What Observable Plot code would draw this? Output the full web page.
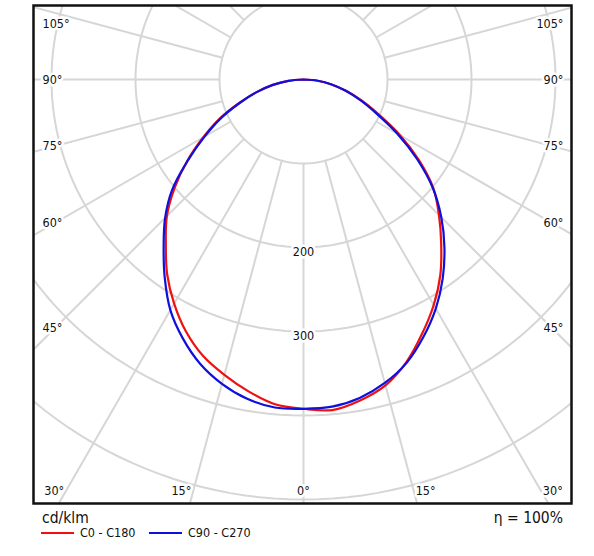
<!DOCTYPE html>
<html>
<head>
<meta charset="utf-8">
<script src="https://cdn.jsdelivr.net/npm/d3@7"></script>
<script src="https://cdn.jsdelivr.net/npm/@observablehq/plot@0.6"></script>
<style>
  body { margin: 0; background: #fff; }
  #wrap { position: relative; width: 594px; height: 556px; font-family: "DejaVu Sans Condensed", "DejaVu Sans", sans-serif; font-stretch: condensed; color: #111; }
  #chart svg { display: block; }
  #foot { position: absolute; left: 0; top: 510px; width: 594px; height: 46px; }
  .unit { position: absolute; left: 42px; top: 0px; font-size: 15.5px; line-height: 17px; }
  .eta { position: absolute; right: 31px; top: 0px; font-size: 15.5px; line-height: 17px; }
  .item { position: absolute; top: 16px; font-size: 12.5px; line-height: 14px; display: flex; align-items: center; }
  .sw { display: inline-block; width: 33px; height: 2.5px; margin-right: 6px; }
</style>
</head>
<body>
<div id="wrap">
  <div id="chart"></div>
  <div id="foot"></div>
</div>
<script>
// ---- data (cd/klm) ----
const gammaAngles = [0, 5, 10, 15, 20, 25, 30, 35, 40, 45, 50, 55, 60, 65, 70, 75, 80, 85, 90];
// C0 - C180 plane (red)
const c0   = [392, 395, 388, 377, 358, 334, 310, 284, 255, 228, 202, 168, 133, 99, 74, 53, 34, 17, 0];
const c180 = [392, 388, 377, 364, 350, 331, 308, 283, 255, 230, 200, 169, 138, 110, 81, 58, 37, 18, 0];
// C90 - C270 plane (blue)
const c90  = [393, 391, 385, 374, 359, 338, 315, 289, 261, 232, 201, 165, 129, 96, 72, 52, 34, 17, 0];
const c270 = [392, 392, 386, 375, 360, 340, 317, 288, 259, 233, 204, 168, 136, 108, 80, 57, 37, 18, 0];

const seriesNames = ["C0 - C180", "C90 - C270"];
const seriesColors = ["#f01010", "#1010dc"];

const gridRadii = [100, 200, 300, 400, 500];
const radiusLabels = [200, 300];
const spokeAngles = d3.range(-165, 181, 15);
const sideLabelAngles = [45, 60, 75, 90, 105];
const bottomLabelAngles = [0, 15, 30];
const unitLabel = "cd/klm";
const etaLabel = "η = 100%";

// ---- geometry ----
const k = 0.84;               // px per cd/klm
const cx = 303, cy = 79;      // pole position in px
const W = 594, H = 510;
const fL = 33, fR = 571, fT = 5, fB = 503;
const rad = d => d * Math.PI / 180;
const pol = (a, r) => ({x: r * Math.sin(rad(a)), y: r * Math.cos(rad(a))});

function curvePoints(left, right, name) {
  const pts = [];
  for (let i = gammaAngles.length - 1; i >= 0; i--) pts.push({...pol(-gammaAngles[i], left[i]), name});
  for (let i = 1; i < gammaAngles.length; i++) pts.push({...pol(gammaAngles[i], right[i]), name});
  return pts;
}
const redPts = curvePoints(c180, c0, seriesNames[0]);
const bluePts = curvePoints(c270, c90, seriesNames[1]);

const circlePts = gridRadii.flatMap(r => d3.range(0, 361, 2).map(a => ({r, ...pol(a, r)})));
const spokes = spokeAngles.map(a => {
  const p1 = pol(a, 100), p2 = pol(a, 900);
  return {x1: p1.x, y1: p1.y, x2: p2.x, y2: p2.y};
});

const sideOff = 248 / k;
const sideLabels = sideLabelAngles.flatMap(a => {
  let y = sideOff / Math.tan(rad(a));
  y = Math.max(y, (23 - cy) / k);
  return [
    {text: a + "°", x: (42 - cx) / k, y, anchor: "start"},
    {text: a + "°", x: (563 - cx) / k, y, anchor: "end"}
  ];
});
const bottomY = (490 - cy) / k;
const bottomLabels = bottomLabelAngles.flatMap(a => {
  const off = bottomY * Math.tan(rad(a)) + (a > 0 ? 12 / k : 0);
  return a === 0 ? [{text: a + "°", x: 0, y: bottomY}]
    : [{text: a + "°", x: -off, y: bottomY}, {text: a + "°", x: off, y: bottomY}];
});

const FONT = '"DejaVu Sans Condensed", "DejaVu Sans", sans-serif';
const gridColor = "#d6d6d6";
const FS = 12.5;

const plot = Plot.plot({
  width: W, height: H,
  marginLeft: fL, marginRight: W - fR, marginTop: fT, marginBottom: H - fB,
  x: {domain: [(fL - cx) / k, (fR - cx) / k], axis: null},
  y: {domain: [(fB - cy) / k, (fT - cy) / k], axis: null},
  style: {fontFamily: FONT, background: "white"},
  marks: [
    Plot.line(circlePts, {x: "x", y: "y", z: "r", stroke: gridColor, strokeWidth: 2, clip: true}),
    Plot.link(spokes, {x1: "x1", y1: "y1", x2: "x2", y2: "y2", stroke: gridColor, strokeWidth: 2, clip: true}),
    Plot.line(redPts, {x: "x", y: "y", stroke: seriesColors[0], strokeWidth: 2.2, curve: "catmull-rom", clip: true}),
    Plot.line(bluePts, {x: "x", y: "y", stroke: seriesColors[1], strokeWidth: 2.2, curve: "catmull-rom", clip: true}),
    Plot.text(radiusLabels, {x: d => 0, y: d => d, dy: 4, text: d => String(d), fontSize: FS, fill: "#111", stroke: "white", strokeWidth: 5}),
    Plot.text(sideLabels.filter(d => d.anchor === "start"), {x: "x", y: "y", text: "text", textAnchor: "start", fontSize: FS, fill: "#111", stroke: "white", strokeWidth: 5}),
    Plot.text(sideLabels.filter(d => d.anchor === "end"), {x: "x", y: "y", text: "text", textAnchor: "end", fontSize: FS, fill: "#111", stroke: "white", strokeWidth: 5}),
    Plot.text(bottomLabels, {x: "x", y: "y", text: "text", fontSize: FS, fill: "#111", stroke: "white", strokeWidth: 5}),
    Plot.frame({stroke: "#111", strokeWidth: 2.5})
  ]
});
document.getElementById("chart").appendChild(plot);

// ---- legend / footer ----
const foot = document.getElementById("foot");
const u = document.createElement("div"); u.className = "unit"; u.textContent = unitLabel; foot.appendChild(u);
const e = document.createElement("div"); e.className = "eta"; e.textContent = etaLabel; foot.appendChild(e);
const lefts = [41, 149];
seriesNames.forEach((n, i) => {
  const it = document.createElement("div");
  it.className = "item"; it.style.left = lefts[i] + "px";
  const sw = document.createElement("span"); sw.className = "sw"; sw.style.background = seriesColors[i];
  it.appendChild(sw);
  const t = document.createElement("span"); t.textContent = n; it.appendChild(t);
  foot.appendChild(it);
});
</script>
</body>
</html>
